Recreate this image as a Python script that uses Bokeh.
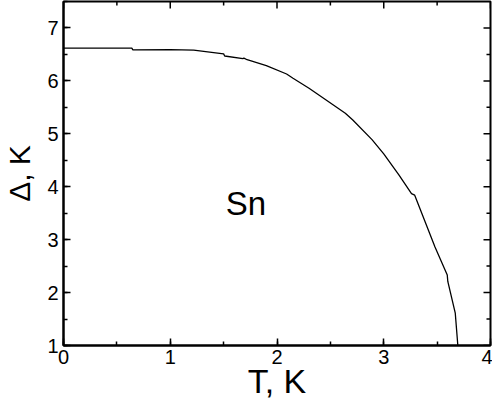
import math
from bokeh.plotting import figure
from bokeh.models import LinearAxis, SingleIntervalTicker, Range1d, Label
from bokeh.embed import file_html
from bokeh.resources import INLINE

# Data
T_K = [0.0, 0.64, 0.65, 1.0, 1.22, 1.50, 1.51, 1.68, 1.69, 1.72, 1.90, 2.09,
       2.15, 2.30, 2.46, 2.64, 2.71, 2.89, 3.00, 3.14, 3.26, 3.29, 3.48,
       3.595, 3.60, 3.67, 3.694]
gap_K = [6.62, 6.62, 6.585, 6.59, 6.58, 6.51, 6.47, 6.42, 6.43, 6.40, 6.29, 6.13,
         6.05, 5.86, 5.64, 5.39, 5.26, 4.89, 4.62, 4.23, 3.87, 3.84, 2.86,
         2.33, 2.21, 1.61, 1.0]

x_major = [0, 1, 2, 3, 4]
x_minor = [0.5, 1.5, 2.5, 3.5]
y_major = [1, 2, 3, 4, 5, 6, 7]
y_minor = [1.5, 2.5, 3.5, 4.5, 5.5, 6.5]

x_label = "T, K"
y_label = "Δ, K"
annotation = "Sn"
annotation_x = 1.52
annotation_y = 3.69

x_min, x_max = 0, 4
y_min, y_max = 1, 7.5

FONT = "Liberation Sans"

p = figure(width=492, height=410, output_backend="svg", toolbar_location=None,
           x_range=Range1d(x_min, x_max), y_range=Range1d(y_min, y_max),
           x_axis_location=None, y_axis_location=None,
           min_border_left=60, min_border_right=2, min_border_top=1,
           min_border_bottom=65)
p.grid.visible = False
p.outline_line_color = "black"
p.outline_line_width = 2
p.background_fill_color = "white"
p.border_fill_color = "white"


def style(ax, label_size):
    ax.axis_line_width = 2
    ax.axis_line_color = "black"
    ax.major_tick_in = 7
    ax.major_tick_out = 0
    ax.minor_tick_in = 4
    ax.minor_tick_out = 0
    ax.major_tick_line_width = 1.5
    ax.minor_tick_line_width = 1.5
    ax.major_tick_line_color = "black"
    ax.minor_tick_line_color = "black"
    ax.major_label_text_font = FONT
    ax.major_label_text_font_size = "20px"
    ax.major_label_text_color = "black"
    ax.axis_label_text_font = FONT
    ax.axis_label_text_font_size = label_size
    ax.axis_label_text_font_style = "normal"
    ax.axis_label_text_color = "black"


bx = LinearAxis(ticker=SingleIntervalTicker(interval=1, num_minor_ticks=2), axis_label=x_label)
style(bx, "34px")
bx.major_label_standoff = 4
bx.axis_label_standoff = -5
p.add_layout(bx, "below")

ly = LinearAxis(ticker=SingleIntervalTicker(interval=1, num_minor_ticks=2), axis_label=y_label)
style(ly, "30px")
ly.major_label_standoff = 5
ly.axis_label_standoff = 8
p.add_layout(ly, "left")

# mirrored inward ticks on the top and right edges
p.ray(x=x_major, y=[y_max] * len(x_major), length=7, length_units="screen",
      angle=-math.pi / 2, line_color="black", line_width=1.5)
p.ray(x=x_minor, y=[y_max] * len(x_minor), length=4, length_units="screen",
      angle=-math.pi / 2, line_color="black", line_width=1.5)
p.ray(x=[x_max] * len(y_major), y=y_major, length=7, length_units="screen",
      angle=math.pi, line_color="black", line_width=1.5)
p.ray(x=[x_max] * len(y_minor), y=y_minor, length=4, length_units="screen",
      angle=math.pi, line_color="black", line_width=1.5)

p.line(T_K, gap_K, line_color="black", line_width=1.3)

p.add_layout(Label(x=annotation_x, y=annotation_y, text=annotation,
                   text_font=FONT, text_font_size="33px", text_color="black",
                   text_baseline="alphabetic", text_align="left"))

open("out.html", "w").write(file_html(p, INLINE))
